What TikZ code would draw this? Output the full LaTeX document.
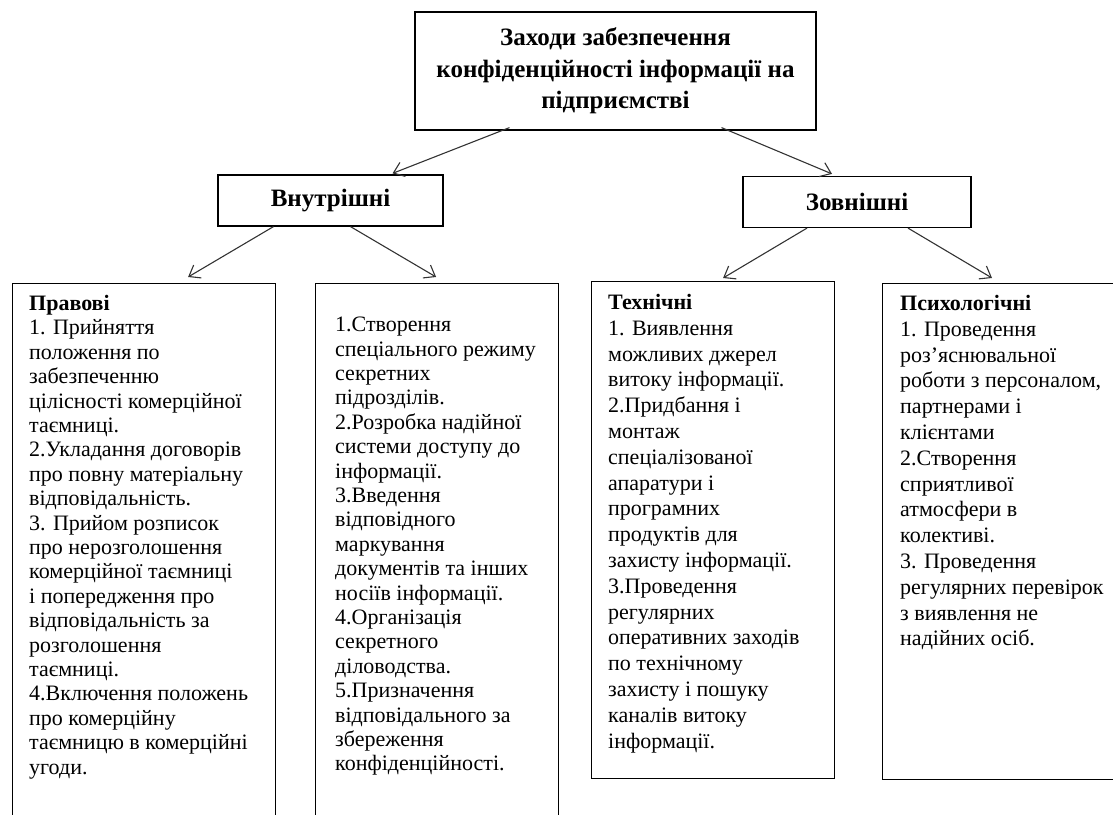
\documentclass[tikz,border=0pt]{standalone}
\usepackage{fontspec}
\setmainfont{Liberation Serif}
\usetikzlibrary{calc}
\usetikzlibrary{positioning}
\usetikzlibrary{arrows.meta}

\begin{document}
\begin{tikzpicture}[x=1pt,y=-1pt,
      title style/.style={rectangle,draw=black,line width=1.2pt,
        minimum width=401pt,minimum height=118pt,align=center,
        font=\fontsize{25}{31.5}\selectfont\bfseries},
      group style/.style={rectangle,draw=black,line width=1.2pt,
        minimum height=51pt,font=\fontsize{25}{28}\selectfont\bfseries},
      list style/.style={rectangle,draw=black,line width=1.2pt,
        anchor=north west,inner sep=0pt},
      item style/.style={anchor=north west,inner sep=0pt,align=left},
      arr/.style={-{Straight Barb[length=10pt,width=15pt]},draw=black!80,
        line width=1.1pt}
      ]
      \useasboundingbox (0,0) rectangle (1113,814);

      \node[title style] (title) at (615.5,71) {Заходи забезпечення\\
        конфіденційності інформації на\\підприємстві};
      \node[group style,minimum width=225pt] (inner) at (330.5,200.5) {Внутрішні};
      \node[group style,minimum width=228pt] (outer) at (857,202) {Зовнішні};

      \node[list style,minimum width=263pt,minimum height=560pt] (legal) at (12,283) {};
      \node[list style,minimum width=243pt,minimum height=560pt] (organ) at (315,283) {};
      \node[list style,minimum width=243pt,minimum height=497pt] (tech) at (591,281) {};
      \node[list style,minimum width=243pt,minimum height=496pt] (psych) at (882,283) {};

      \node[item style,font=\fontsize{22}{24.4}\selectfont] (legaltext) at (29,295)
        {\textbf{Правові}\\1. Прийняття\\положення по\\забезпеченню\\
        цілісності комерційної\\таємниці.\\2.Укладання договорів\\
        про повну матеріальну\\відповідальність.\\3. Прийом розписок\\
        про нерозголошення\\комерційної таємниці\\і попередження про\\
        відповідальність за\\розголошення\\таємниці.\\4.Включення положень\\
        про комерційну\\таємницю в комерційні\\угоди.};
      \node[item style,font=\fontsize{22}{24.4}\selectfont] (organtext) at (335,317)
        {1.Створення\\спеціального режиму\\секретних\\підрозділів.\\
        2.Розробка надійної\\системи доступу до\\інформації.\\3.Введення\\
        відповідного\\маркування\\документів та інших\\носіїв інформації.\\
        4.Організація\\секретного\\діловодства.\\5.Призначення\\
        відповідального за\\збереження\\конфіденційності.};
      \node[item style,font=\fontsize{22}{25.8}\selectfont] (techtext) at (608,294)
        {\textbf{Технічні}\\1. Виявлення\\можливих джерел\\витоку інформації.\\
        2.Придбання і\\монтаж\\спеціалізованої\\апаратури і\\програмних\\
        продуктів для\\захисту інформації.\\3.Проведення\\регулярних\\
        оперативних заходів\\по технічному\\захисту і пошуку\\каналів витоку\\
        інформації.};
      \node[item style,font=\fontsize{22}{25.8}\selectfont] (psychtext) at (900,295)
        {\textbf{Психологічні}\\1. Проведення\\роз’яснювальної\\
        роботи з персоналом,\\партнерами і\\клієнтами\\2.Створення\\
        сприятливої\\атмосфери в\\колективі.\\3. Проведення\\
        регулярних перевірок\\з виявлення не\\надійних осіб.};

      \draw[arr] ([xshift=-106pt,yshift=3pt]title.south) -- ([xshift=62pt,yshift=1pt]inner.north);
      \draw[arr] ([xshift=106pt,yshift=3pt]title.south) -- ([xshift=-25pt,yshift=2pt]outer.north);

      \draw[arr] ([xshift=-57pt]inner.south) -- ([xshift=44pt,yshift=6pt]legal.north);
      \draw[arr] ([xshift=20pt]inner.south) -- ([xshift=-1pt,yshift=6pt]organ.north);

      \draw[arr] ([xshift=-50pt]outer.south) -- ([xshift=10pt,yshift=3pt]tech.north);
      \draw[arr] ([xshift=51pt]outer.south) -- ([xshift=110pt,yshift=5pt]psych.north west);

    \end{tikzpicture}
\end{document}
